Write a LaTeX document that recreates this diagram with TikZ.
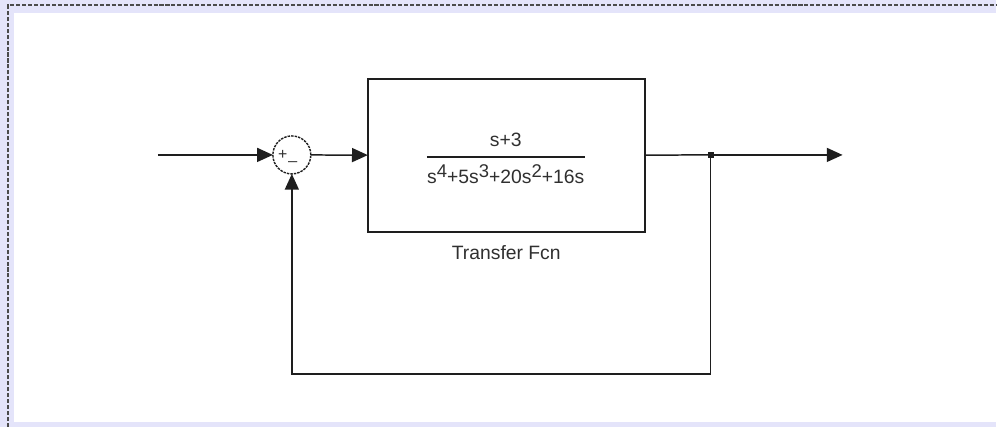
\documentclass[tikz,border=0pt]{standalone}
\usepackage{fontspec}
\setmainfont{Liberation Sans}
\usepackage{xcolor}
\usepackage{tikz}
\usetikzlibrary{arrows.meta, positioning}
\definecolor{PageLav}{HTML}{E4E4FA}
\definecolor{WireDark}{HTML}{1E1E1E}
\definecolor{TextDark}{HTML}{303030}
\newcommand{\supnum}[1]{\raisebox{3.6pt}{\fontsize{10.5}{11}\selectfont #1}}

\begin{document}
\begin{tikzpicture}[
    wire/.style={draw=WireDark, line width=0.85pt},
    sig/.style={wire, -{Triangle[length=9pt, width=8pt]}},
    sumblock/.style={circle, draw=WireDark, dash pattern=on 1.4pt off 0.6pt, line width=0.8pt, minimum size=0.76cm, inner sep=0pt, outer sep=0pt},
    tfblock/.style={draw=WireDark, line width=1.1pt, minimum width=5.54cm, minimum height=3.06cm, outer sep=0pt},
    blabel/.style={font=\fontsize{11}{13}\selectfont, text=TextDark, inner sep=0pt}
]
% Canvas and frame
\fill[PageLav] (0,0) rectangle (19.94,-8.54);
\fill[white] (0.28,-0.26) rectangle (19.94,-8.44);
\draw[WireDark!80, line width=0.6pt, dash pattern=on 2.3pt off 1.1pt] (0.16,-8.54) -- (0.16,-0.10) -- (19.94,-0.10);
\useasboundingbox (0,0) rectangle (19.94,-8.54);

% Blocks
\node[sumblock] (sum) at (5.84,-3.10) {};
\node[blabel, font=\fontsize{9}{10}\selectfont] (plus) at (5.66,-3.10) {+};
\node[blabel, font=\fontsize{9}{10}\selectfont] (minus) at (5.86,-3.22) {\_};
\node[tfblock] (plant) at (10.13,-3.11) {};
\node[blabel] (num) at (10.12,-2.80) {s+3};
\node[blabel] (den) at (10.12,-3.49) {s\supnum{4}+5s\supnum{3}+20s\supnum{2}+16s};
\draw[wire, line width=0.75pt] ([yshift=4.2pt]den.north west) -- ([yshift=4.2pt]den.north east);
\node[blabel, below=0.26cm of plant] (tfname) {Transfer Fcn};

% Signal points
\coordinate (in) at (3.16,-3.10);
\coordinate (branch) at (14.22,-3.10);
\coordinate (out) at (16.86,-3.10);
\coordinate (fbright) at (14.22,-7.48);
\coordinate (fbleft) at (5.84,-7.48);

% Connections
\draw[sig] (in) -- (sum);
\draw[sig] (sum) -- (plant);
\draw[wire] (plant) -- (branch);
\draw[sig] (branch) -- (out);
\draw[sig] (branch) -- (fbright) -- (fbleft) -- (sum);
\fill[WireDark] (branch) ++(-0.06,-0.06) rectangle ++(0.12,0.12);
\end{tikzpicture}
\end{document}
